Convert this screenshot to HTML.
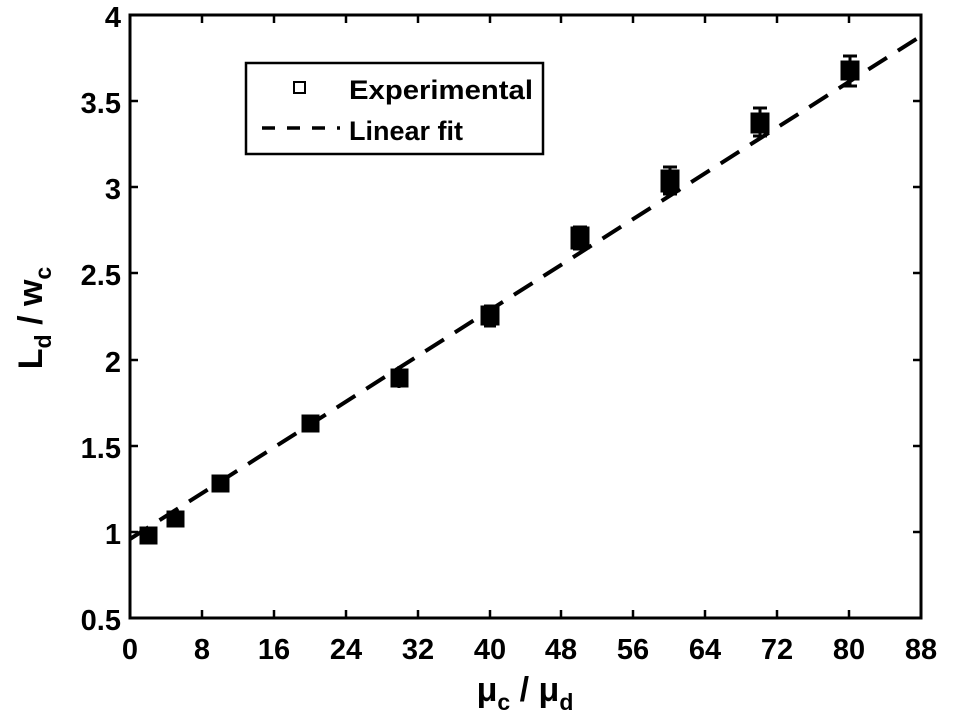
<!DOCTYPE html>
<html><head><style>body{margin:0;background:#fff}svg{display:block}</style></head><body>
<svg width="955" height="723" xmlns="http://www.w3.org/2000/svg" font-family="Liberation Sans, sans-serif" font-weight="bold">
<rect width="955" height="723" fill="#fff"/>
<g stroke="#000" stroke-width="3" fill="none">
<rect x="130" y="15" width="791" height="603"/>
</g>
<g stroke="#000" stroke-width="2.5">
<line x1="202" y1="618" x2="202" y2="610"/><line x1="274" y1="618" x2="274" y2="610"/><line x1="346" y1="618" x2="346" y2="610"/><line x1="418" y1="618" x2="418" y2="610"/><line x1="490" y1="618" x2="490" y2="610"/><line x1="561" y1="618" x2="561" y2="610"/><line x1="633" y1="618" x2="633" y2="610"/><line x1="705" y1="618" x2="705" y2="610"/><line x1="777" y1="618" x2="777" y2="610"/><line x1="849" y1="618" x2="849" y2="610"/>
<line x1="202" y1="15" x2="202" y2="23"/><line x1="274" y1="15" x2="274" y2="23"/><line x1="346" y1="15" x2="346" y2="23"/><line x1="418" y1="15" x2="418" y2="23"/><line x1="490" y1="15" x2="490" y2="23"/><line x1="561" y1="15" x2="561" y2="23"/><line x1="633" y1="15" x2="633" y2="23"/><line x1="705" y1="15" x2="705" y2="23"/><line x1="777" y1="15" x2="777" y2="23"/><line x1="849" y1="15" x2="849" y2="23"/>
<line x1="130" y1="532" x2="138" y2="532"/><line x1="130" y1="446" x2="138" y2="446"/><line x1="130" y1="360" x2="138" y2="360"/><line x1="130" y1="273" x2="138" y2="273"/><line x1="130" y1="187" x2="138" y2="187"/><line x1="130" y1="101" x2="138" y2="101"/>
<line x1="921" y1="532" x2="913" y2="532"/><line x1="921" y1="446" x2="913" y2="446"/><line x1="921" y1="360" x2="913" y2="360"/><line x1="921" y1="273" x2="913" y2="273"/><line x1="921" y1="187" x2="913" y2="187"/><line x1="921" y1="101" x2="913" y2="101"/>
</g>
<g font-size="29" text-anchor="end">
<text x="121" y="630">0.5</text><text x="121" y="544">1</text><text x="121" y="458">1.5</text><text x="121" y="372">2</text><text x="121" y="285">2.5</text><text x="121" y="199">3</text><text x="121" y="113">3.5</text><text x="121" y="27">4</text>
</g>
<g font-size="29" text-anchor="middle">
<text x="130" y="659">0</text><text x="202" y="659">8</text><text x="274" y="659">16</text><text x="346" y="659">24</text><text x="418" y="659">32</text><text x="490" y="659">40</text><text x="561" y="659">48</text><text x="633" y="659">56</text><text x="705" y="659">64</text><text x="777" y="659">72</text><text x="849" y="659">80</text><text x="921" y="659">88</text>
</g>
<text x="525" y="701" font-size="34" text-anchor="middle">μ<tspan font-size="23" dy="9">c</tspan><tspan dy="-9"> / μ</tspan><tspan font-size="23" dy="9">d</tspan></text>
<text transform="translate(42,318) rotate(-90)" font-size="34" text-anchor="middle">L<tspan font-size="23" dy="9">d</tspan><tspan dy="-9"> / w</tspan><tspan font-size="23" dy="9">c</tspan></text>
<line x1="130" y1="539" x2="921" y2="36" stroke="#000" stroke-width="4" stroke-dasharray="22,13"/>
<g fill="#000" stroke="#000" stroke-width="3">
<rect x="141" y="528" width="15" height="15"/>
<rect x="168" y="512" width="15" height="14"/>
<rect x="213" y="476" width="15" height="15"/>
<rect x="303" y="416" width="15" height="15"/>
<rect x="392" y="370" width="15" height="16"/><line x1="399" y1="366" x2="399" y2="388"/>
<rect x="482" y="307" width="16" height="17"/><line x1="484" y1="306" x2="496" y2="306"/><line x1="484" y1="326" x2="496" y2="326"/>
<rect x="572" y="228" width="16" height="20"/><line x1="573" y1="227" x2="587" y2="227"/><line x1="573" y1="249" x2="587" y2="249"/>
<rect x="662" y="171" width="16" height="20"/><line x1="663" y1="167" x2="677" y2="167"/><line x1="663" y1="194" x2="677" y2="194"/><line x1="670" y1="167" x2="670" y2="194"/>
<rect x="752" y="114" width="16" height="18"/><line x1="753" y1="108" x2="767" y2="108"/><line x1="753" y1="136" x2="767" y2="136"/><line x1="760" y1="108" x2="760" y2="136"/>
<rect x="842" y="62" width="16" height="17"/><line x1="843" y1="56" x2="857" y2="56"/><line x1="843" y1="86" x2="857" y2="86"/><line x1="850" y1="56" x2="850" y2="86"/>
</g>
<rect x="246" y="63" width="297" height="91" fill="#fff" stroke="#000" stroke-width="2.5"/>
<rect x="294" y="82" width="11" height="11" fill="none" stroke="#000" stroke-width="2"/>
<line x1="262" y1="128" x2="340" y2="128" stroke="#000" stroke-width="3.5" stroke-dasharray="13,12"/>
<text x="349" y="99" font-size="27" style="font-weight:600" textLength="184" lengthAdjust="spacingAndGlyphs">Experimental</text>
<text x="349" y="140" font-size="27" style="font-weight:600">Linear fit</text>
</svg>
</body></html>
